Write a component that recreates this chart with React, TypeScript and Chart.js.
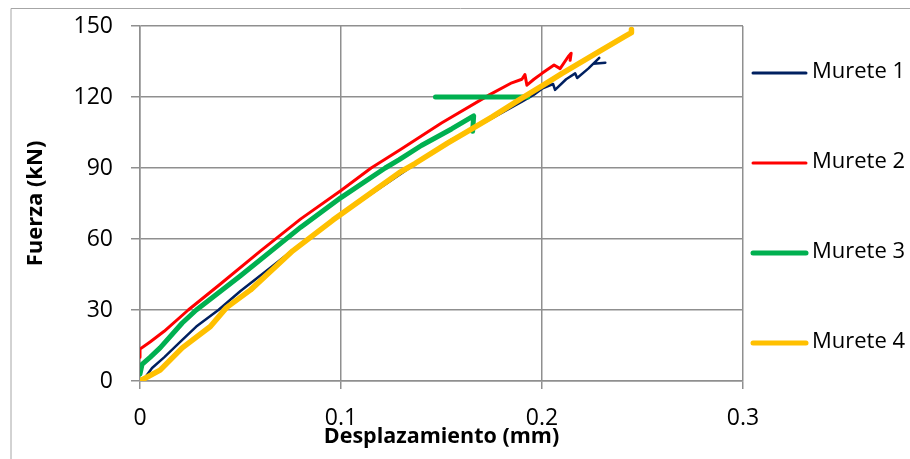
import React, { useEffect, useRef } from 'react';
import { Chart, registerables } from 'chart.js';

Chart.register(...registerables);

const seriesNames = ['Murete 1', 'Murete 2', 'Murete 3', 'Murete 4'];
const seriesColors = ['#002060', '#FF0000', '#00B050', '#FFC000'];

const xTickLabels = ['0', '0.1', '0.2', '0.3'];
const yTickLabels = ['0', '30', '60', '90', '120', '150'];

const murete1X = [0.003, 0.006, 0.012, 0.02, 0.028, 0.039, 0.05, 0.065, 0.08, 0.096, 0.115, 0.135, 0.155, 0.163, 0.175, 0.19, 0.196, 0.2, 0.2055, 0.2065, 0.212, 0.2165, 0.2175, 0.223, 0.2285, 0.2255, 0.2315];
const murete1Y = [2, 5.5, 10, 16.5, 23, 30, 38, 48, 58, 68, 79, 90.5, 102, 105.5, 111, 118, 121, 123.5, 125.5, 123, 127.5, 130, 128, 132, 136.5, 134, 134.5];

const murete2X = [0, 0, 0.005, 0.012, 0.024, 0.04, 0.06, 0.08, 0.1, 0.115, 0.13, 0.15, 0.174, 0.185, 0.19, 0.1915, 0.1925, 0.196, 0.2, 0.206, 0.209, 0.213, 0.2145, 0.214];
const murete2Y = [10, 13.5, 16.5, 21, 30, 41, 55, 68.5, 80.5, 90, 98, 109, 121, 126, 127.5, 129.5, 125, 127.5, 130, 133.5, 132, 137, 138.5, 135.5];

const murete3X = [0, 0.001, 0.005, 0.01, 0.021, 0.028, 0.05, 0.08, 0.1, 0.122, 0.129, 0.14, 0.155, 0.166, 0.1655, 0.16, 0.147, 0.193];
const murete3Y = [3, 7, 10, 14, 24.5, 30, 44.5, 65, 77.5, 90, 93.5, 99.5, 106.5, 112, 105.5, null, 120, 120];

const murete4X = [0, 0.01, 0.021, 0.035, 0.043, 0.055, 0.076, 0.096, 0.115, 0.129, 0.137, 0.153, 0.163, 0.175, 0.19, 0.2, 0.21, 0.23, 0.241, 0.2445, 0.2445];
const murete4Y = [0, 4.6, 14, 23, 31, 38.5, 55, 68, 79.5, 88, 92, 100.5, 105.5, 111.5, 119.5, 124.7, 130, 140, 145.5, 147.2, 148.5];

const seriesX = [murete1X, murete2X, murete3X, murete4X];
const seriesY = [murete1Y, murete2Y, murete3Y, murete4Y];

const FONT = "'Open Sans', sans-serif";

export default function App() {
  const ref = useRef<HTMLCanvasElement | null>(null);

  useEffect(() => {
    if (!ref.current) return;
    document.body.style.margin = '0';
    document.body.style.overflow = 'hidden';
    const lineWidths = [2.5, 3, 5, 5.5];
    const legendWidths = [3, 3, 5, 5];

    const borderPlugin = {
      id: 'outerBorder',
      beforeDraw(chart: any) {
        const c = chart.ctx;
        c.save();
        c.strokeStyle = '#a6a6a6';
        c.lineWidth = 1;
        c.beginPath();
        c.moveTo(11, chart.height);
        c.lineTo(11, 8.5);
        c.lineTo(chart.width, 8.5);
        c.stroke();
        c.restore();
      },
    };

    const legendPlugin = {
      id: 'sideLegend',
      afterDraw(chart: any) {
        const c = chart.ctx;
        const area = chart.chartArea;
        c.save();
        chart.data.datasets.forEach((ds: any, i: number) => {
          const y = area.top + 47 + i * 90;
          c.strokeStyle = ds.borderColor;
          c.lineWidth = legendWidths[i];
          c.lineCap = 'round';
          c.beginPath();
          c.moveTo(area.right + 10, y);
          c.lineTo(area.right + 63, y);
          c.stroke();
          c.fillStyle = '#000';
          c.font = `22px ${FONT}`;
          c.textBaseline = 'middle';
          c.textAlign = 'left';
          c.fillText(ds.label, area.right + 69, y - 1);
        });
        c.restore();
      },
    };

    const datasets = seriesNames.map((name, i) => ({
      label: name,
      data: seriesX[i].map((x, j) => ({ x, y: seriesY[i][j] })),
      borderColor: seriesColors[i],
      backgroundColor: seriesColors[i],
      borderWidth: lineWidths[i],
      pointRadius: 0,
      tension: 0,
      showLine: true,
      spanGaps: false,
      borderJoinStyle: 'round' as const,
      borderCapStyle: 'round' as const,
      order: 3 - i,
    }));

    const gridColor = '#8f8f8f';

    const chart = new Chart(ref.current, {
      type: 'scatter',
      data: { datasets },
      plugins: [borderPlugin, legendPlugin],
      options: {
        animation: false,
        responsive: false,
        maintainAspectRatio: false,
        layout: { padding: { left: 0, top: 26, right: 167, bottom: 0 } },
        plugins: {
          legend: { display: false },
          tooltip: { enabled: false },
        },
        scales: {
          x: {
            type: 'linear',
            min: 0,
            max: 0.3,
            afterFit(scale: any) {
              scale.height = 78;
              scale.paddingLeft = 0;
              scale.paddingRight = 0;
            },
            ticks: {
              stepSize: 0.1,
              color: '#000',
              padding: 16,
              font: { family: FONT, size: 23 },
              callback: (_v: any, i: number) => xTickLabels[i],
            },
            grid: { color: gridColor, lineWidth: 1.5, tickLength: 8 },
            border: { display: true, color: gridColor, width: 1.5 },
            title: {
              display: true,
              text: 'Desplazamiento (mm)',
              color: '#000',
              font: { family: FONT, size: 21.5, weight: 'bold', lineHeight: 1.2 },
              padding: { top: 0, bottom: 9 },
            },
          },
          y: {
            type: 'linear',
            min: 0,
            max: 150,
            afterFit(scale: any) {
              scale.width = 140;
              scale.paddingTop = 0;
              scale.paddingBottom = 0;
            },
            ticks: {
              stepSize: 30,
              color: '#000',
              padding: 18,
              font: { family: FONT, size: 23 },
              callback: (_v: any, i: number) => yTickLabels[i],
            },
            grid: { color: gridColor, lineWidth: 1.5, tickLength: 9 },
            border: { display: true, color: gridColor, width: 1.5 },
            title: {
              display: true,
              text: 'Fuerza (kN)',
              color: '#000',
              font: { family: FONT, size: 22, weight: 'bold', lineHeight: 1.2 },
              padding: { top: 23, bottom: 0 },
            },
          },
        },
      } as any,
    });

    return () => chart.destroy();
  }, []);

  return (
    <div style={{ width: 910, height: 459 }}>
      <canvas ref={ref} width={910} height={459} style={{ display: 'block' }} />
    </div>
  );
}
